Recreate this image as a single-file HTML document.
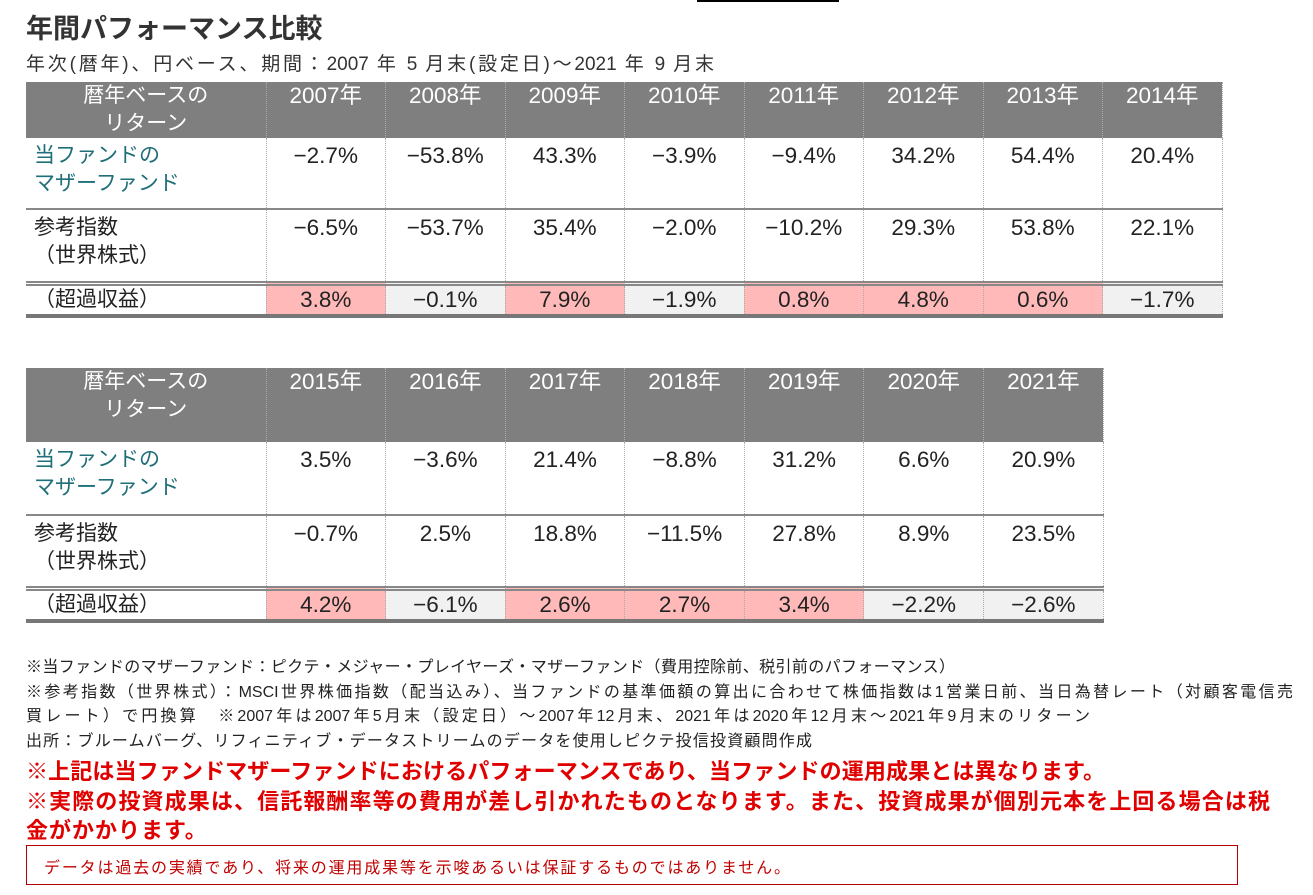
<!DOCTYPE html>
<html><head><meta charset="utf-8"><style>
body{margin:0;width:1313px;height:895px;background:#fff;font-family:"Liberation Sans","Noto Sans CJK JP",sans-serif;position:relative;overflow:hidden;color:#222}
.a{position:absolute;white-space:nowrap}
.j{position:absolute;text-align:justify;text-align-last:justify;white-space:normal;overflow:visible}
table{position:absolute;left:26px;border-collapse:collapse;table-layout:fixed;font-size:22.5px}
td{padding:0;vertical-align:top;text-align:center;border-left:1px dotted #aaa;border-right:1px dotted #aaa;line-height:28px}
td:first-child{text-align:left;padding-left:8px;border-left:none;font-size:21px}
tr.h td{background:#7f7f7f;color:#fff;padding-top:0}
tr.h td:first-child{text-align:center;padding-left:0}
tr.r1 td{padding-top:4px}
tr.r1 td:first-child{color:#1f6f78}
tr.r2 td{border-top:2px solid #888;padding-top:4px}
tr.r3 td{border-top:5px double #888;border-bottom:4px solid #777;line-height:28px}
.p{background:#ffb9b9}.g{background:#f1f1f1}
</style></head><body>
<div class="a" style="left:26px;top:7px;font-size:27px;font-weight:bold;color:#333">年間パフォーマンス比較</div>
<div class="j" style="left:26px;top:49px;width:688px;font-size:19px;color:#333">年次(暦年)、円ベース、期間：2007 年 5 月末(設定日)～2021 年 9 月末</div>
<div class="a" style="left:697px;top:0;width:142px;height:2px;background:#000"></div>

<table style="top:82px;width:1196px">
<colgroup><col style="width:240px"><col span="8" style="width:119.5px"></colgroup>
<tr class="h" style="height:54px"><td>暦年ベースの<br>リターン</td><td>2007年</td><td>2008年</td><td>2009年</td><td>2010年</td><td>2011年</td><td>2012年</td><td>2013年</td><td>2014年</td></tr>
<tr class="r1" style="height:71px"><td>当ファンドの<br>マザーファンド</td><td>−2.7%</td><td>−53.8%</td><td>43.3%</td><td>−3.9%</td><td>−9.4%</td><td>34.2%</td><td>54.4%</td><td>20.4%</td></tr>
<tr class="r2" style="height:74px"><td>参考指数<br>（世界株式）</td><td>−6.5%</td><td>−53.7%</td><td>35.4%</td><td>−2.0%</td><td>−10.2%</td><td>29.3%</td><td>53.8%</td><td>22.1%</td></tr>
<tr class="r3" style="height:33px"><td>（超過収益）</td><td class="p">3.8%</td><td class="g">−0.1%</td><td class="p">7.9%</td><td class="g">−1.9%</td><td class="p">0.8%</td><td class="p">4.8%</td><td class="p">0.6%</td><td class="g">−1.7%</td></tr>
</table>

<table style="top:368px;width:1077px">
<colgroup><col style="width:240px"><col span="7" style="width:119.6px"></colgroup>
<tr class="h" style="height:74px"><td>暦年ベースの<br>リターン</td><td>2015年</td><td>2016年</td><td>2017年</td><td>2018年</td><td>2019年</td><td>2020年</td><td>2021年</td></tr>
<tr class="r1" style="height:73px"><td>当ファンドの<br>マザーファンド</td><td>3.5%</td><td>−3.6%</td><td>21.4%</td><td>−8.8%</td><td>31.2%</td><td>6.6%</td><td>20.9%</td></tr>
<tr class="r2" style="height:73px"><td>参考指数<br>（世界株式）</td><td>−0.7%</td><td>2.5%</td><td>18.8%</td><td>−11.5%</td><td>27.8%</td><td>8.9%</td><td>23.5%</td></tr>
<tr class="r3" style="height:30px"><td>（超過収益）</td><td class="p">4.2%</td><td class="g">−6.1%</td><td class="p">2.6%</td><td class="p">2.7%</td><td class="p">3.4%</td><td class="g">−2.2%</td><td class="g">−2.6%</td></tr>
</table>

<div class="j" style="left:26px;top:653px;width:929px;font-size:16px">※当ファンドのマザーファンド：ピクテ・メジャー・プレイヤーズ・マザーファンド（費用控除前、税引前のパフォーマンス）</div>
<div class="j" style="left:26px;top:678px;width:1267px;font-size:16px">※参考指数（世界株式）：MSCI世界株価指数（配当込み）、当ファンドの基準価額の算出に合わせて株価指数は1営業日前、当日為替レート（対顧客電信売</div>
<div class="j" style="left:26px;top:702px;width:1064px;font-size:16px">買レート）で円換算　※2007年は2007年5月末（設定日）～2007年12月末、2021年は2020年12月末～2021年9月末のリターン</div>
<div class="j" style="left:26px;top:727px;width:786px;font-size:16px">出所：ブルームバーグ、リフィニティブ・データストリームのデータを使用しピクテ投信投資顧問作成</div>
<div class="j" style="left:26px;top:754px;width:1079px;font-size:22px;font-weight:bold;color:#e00000">※上記は当ファンドマザーファンドにおけるパフォーマンスであり、当ファンドの運用成果とは異なります。</div>
<div class="j" style="left:26px;top:784px;width:1244px;font-size:22px;font-weight:bold;color:#e00000">※実際の投資成果は、信託報酬率等の費用が差し引かれたものとなります。また、投資成果が個別元本を上回る場合は税</div>
<div class="a" style="left:26px;top:813px;font-size:22px;font-weight:bold;color:#e00000;letter-spacing:1px">金がかかります。</div>
<div class="a" style="left:26px;top:845px;width:1210px;height:38px;border:1px solid #b00000"></div>
<div class="j" style="left:44px;top:854px;width:746px;font-size:16px;color:#c00000">データは過去の実績であり、将来の運用成果等を示唆あるいは保証するものではありません。</div>
</body></html>
